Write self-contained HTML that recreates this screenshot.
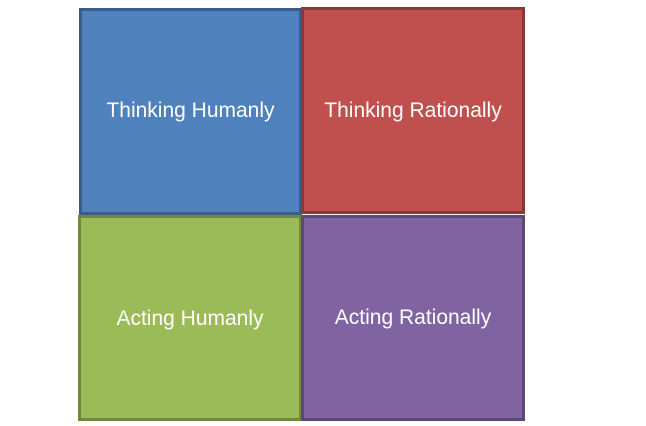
<!DOCTYPE html>
<html><head><style>
body{margin:0;width:646px;height:426px;background:#fff;position:relative;overflow:hidden;font-family:"Liberation Sans",sans-serif}
.b{position:absolute;box-sizing:border-box;border:3px solid;color:#fff;font-size:21px;display:flex;align-items:center;justify-content:center;white-space:nowrap}
</style></head><body>
<div class="b" style="left:79px;top:8px;width:223px;height:207px;background:#4f81bd;border-color:#385d8a"><span style="margin-top:-1px">Thinking Humanly</span></div>
<div class="b" style="left:301px;top:7px;width:224px;height:207px;background:#c0504d;border-color:#8c3836"><span style="margin-top:0px">Thinking Rationally</span></div>
<div class="b" style="left:78px;top:215px;width:224px;height:206px;background:#9bbb59;border-color:#71893f"><span style="margin-top:2px">Acting Humanly</span></div>
<div class="b" style="left:301px;top:215px;width:224px;height:206px;background:#8064a2;border-color:#5c4776"><span style="margin-top:0px">Acting Rationally</span></div>
</body></html>
